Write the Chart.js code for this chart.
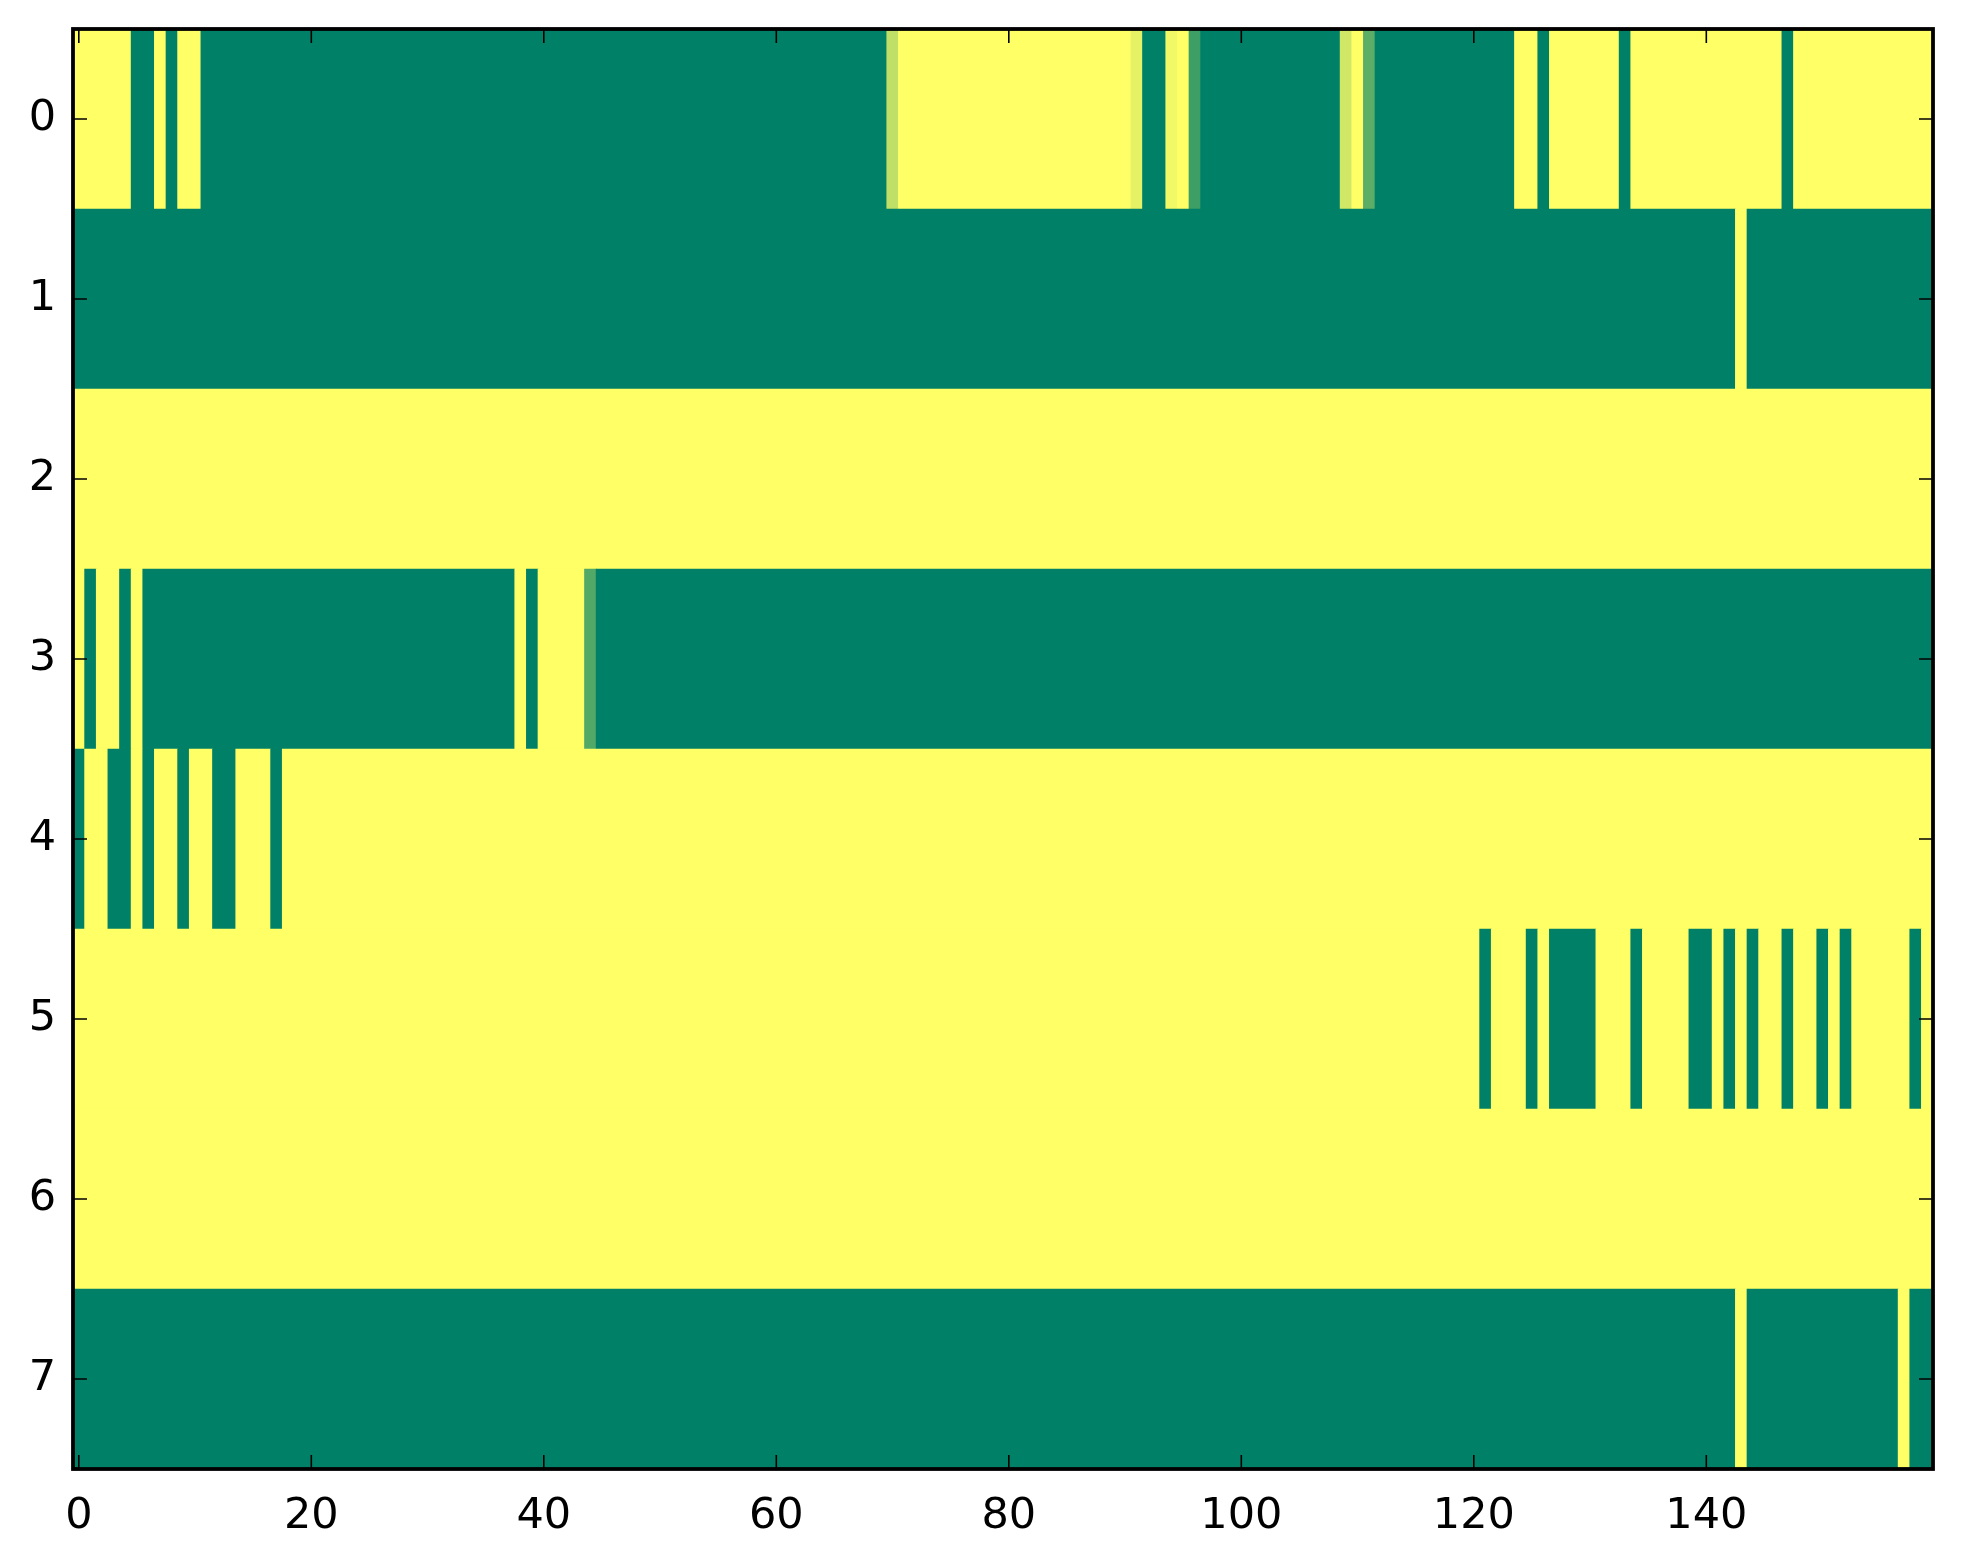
<!DOCTYPE html>
<html>
<head>
<meta charset="utf-8">
<script src="https://cdn.jsdelivr.net/npm/chart.js@4.4.1/dist/chart.umd.min.js"></script>
<style>
  html, body { margin: 0; padding: 0; background: #ffffff; }
  #wrap { width: 1963px; height: 1564px; }
</style>
</head>
<body>
<div id="wrap"><canvas id="heatmap" width="1963" height="1564"></canvas></div>
<script>
/* ======= Data ====== */
const rowTicks = [0, 1, 2, 3, 4, 5, 6, 7];
const colTicks = [0, 20, 40, 60, 80, 100, 120, 140];

// one value per column (160 columns), 0 = green, 1 = yellow
const row0 = [
  1,1,1,1,1,0,0,1,0,1,1,0,0,0,0,0,0,0,0,0, 0,0,0,0,0,0,0,0,0,0,0,0,0,0,0,0,0,0,0,0,
  0,0,0,0,0,0,0,0,0,0,0,0,0,0,0,0,0,0,0,0, 0,0,0,0,0,0,0,0,0,0,0.75,1,1,1,1,1,1,1,1,1,
  1,1,1,1,1,1,1,1,1,1,1,0.9,0,0,0.95,1,0.24,0,0,0, 0,0,0,0,0,0,0,0,0,0.82,1,0.36,0,0,0,0,0,0,0,0,
  0,0,0,0,1,1,0,1,1,1,1,1,1,0,1,1,1,1,1,1, 1,1,1,1,1,1,1,0,1,1,1,1,1,1,1,1,1,1,1,1
];
const row1 = [
  0,0,0,0,0,0,0,0,0,0,0,0,0,0,0,0,0,0,0,0, 0,0,0,0,0,0,0,0,0,0,0,0,0,0,0,0,0,0,0,0,
  0,0,0,0,0,0,0,0,0,0,0,0,0,0,0,0,0,0,0,0, 0,0,0,0,0,0,0,0,0,0,0,0,0,0,0,0,0,0,0,0,
  0,0,0,0,0,0,0,0,0,0,0,0,0,0,0,0,0,0,0,0, 0,0,0,0,0,0,0,0,0,0,0,0,0,0,0,0,0,0,0,0,
  0,0,0,0,0,0,0,0,0,0,0,0,0,0,0,0,0,0,0,0, 0,0,0,1,0,0,0,0,0,0,0,0,0,0,0,0,0,0,0,0
];
const row2 = [
  1,1,1,1,1,1,1,1,1,1,1,1,1,1,1,1,1,1,1,1, 1,1,1,1,1,1,1,1,1,1,1,1,1,1,1,1,1,1,1,1,
  1,1,1,1,1,1,1,1,1,1,1,1,1,1,1,1,1,1,1,1, 1,1,1,1,1,1,1,1,1,1,1,1,1,1,1,1,1,1,1,1,
  1,1,1,1,1,1,1,1,1,1,1,1,1,1,1,1,1,1,1,1, 1,1,1,1,1,1,1,1,1,1,1,1,1,1,1,1,1,1,1,1,
  1,1,1,1,1,1,1,1,1,1,1,1,1,1,1,1,1,1,1,1, 1,1,1,1,1,1,1,1,1,1,1,1,1,1,1,1,1,1,1,1
];
const row3 = [
  1,0,1,1,0,1,0,0,0,0,0,0,0,0,0,0,0,0,0,0, 0,0,0,0,0,0,0,0,0,0,0,0,0,0,0,0,0,0,1,0,
  1,1,1,1,0.32,0,0,0,0,0,0,0,0,0,0,0,0,0,0,0, 0,0,0,0,0,0,0,0,0,0,0,0,0,0,0,0,0,0,0,0,
  0,0,0,0,0,0,0,0,0,0,0,0,0,0,0,0,0,0,0,0, 0,0,0,0,0,0,0,0,0,0,0,0,0,0,0,0,0,0,0,0,
  0,0,0,0,0,0,0,0,0,0,0,0,0,0,0,0,0,0,0,0, 0,0,0,0,0,0,0,0,0,0,0,0,0,0,0,0,0,0,0,0
];
const row4 = [
  0,1,1,0,0,1,0,1,1,0,1,1,0,0,1,1,1,0,1,1, 1,1,1,1,1,1,1,1,1,1,1,1,1,1,1,1,1,1,1,1,
  1,1,1,1,1,1,1,1,1,1,1,1,1,1,1,1,1,1,1,1, 1,1,1,1,1,1,1,1,1,1,1,1,1,1,1,1,1,1,1,1,
  1,1,1,1,1,1,1,1,1,1,1,1,1,1,1,1,1,1,1,1, 1,1,1,1,1,1,1,1,1,1,1,1,1,1,1,1,1,1,1,1,
  1,1,1,1,1,1,1,1,1,1,1,1,1,1,1,1,1,1,1,1, 1,1,1,1,1,1,1,1,1,1,1,1,1,1,1,1,1,1,1,1
];
const row5 = [
  1,1,1,1,1,1,1,1,1,1,1,1,1,1,1,1,1,1,1,1, 1,1,1,1,1,1,1,1,1,1,1,1,1,1,1,1,1,1,1,1,
  1,1,1,1,1,1,1,1,1,1,1,1,1,1,1,1,1,1,1,1, 1,1,1,1,1,1,1,1,1,1,1,1,1,1,1,1,1,1,1,1,
  1,1,1,1,1,1,1,1,1,1,1,1,1,1,1,1,1,1,1,1, 1,1,1,1,1,1,1,1,1,1,1,1,1,1,1,1,1,1,1,1,
  1,0,1,1,1,0,1,0,0,0,0,1,1,1,0,1,1,1,1,0, 0,1,0,1,0,1,1,0,1,1,0,1,0,1,1,1,1,1,0,1
];
const row6 = [
  1,1,1,1,1,1,1,1,1,1,1,1,1,1,1,1,1,1,1,1, 1,1,1,1,1,1,1,1,1,1,1,1,1,1,1,1,1,1,1,1,
  1,1,1,1,1,1,1,1,1,1,1,1,1,1,1,1,1,1,1,1, 1,1,1,1,1,1,1,1,1,1,1,1,1,1,1,1,1,1,1,1,
  1,1,1,1,1,1,1,1,1,1,1,1,1,1,1,1,1,1,1,1, 1,1,1,1,1,1,1,1,1,1,1,1,1,1,1,1,1,1,1,1,
  1,1,1,1,1,1,1,1,1,1,1,1,1,1,1,1,1,1,1,1, 1,1,1,1,1,1,1,1,1,1,1,1,1,1,1,1,1,1,1,1
];
const row7 = [
  0,0,0,0,0,0,0,0,0,0,0,0,0,0,0,0,0,0,0,0, 0,0,0,0,0,0,0,0,0,0,0,0,0,0,0,0,0,0,0,0,
  0,0,0,0,0,0,0,0,0,0,0,0,0,0,0,0,0,0,0,0, 0,0,0,0,0,0,0,0,0,0,0,0,0,0,0,0,0,0,0,0,
  0,0,0,0,0,0,0,0,0,0,0,0,0,0,0,0,0,0,0,0, 0,0,0,0,0,0,0,0,0,0,0,0,0,0,0,0,0,0,0,0,
  0,0,0,0,0,0,0,0,0,0,0,0,0,0,0,0,0,0,0,0, 0,0,0,1,0,0,0,0,0,0,0,0,0,0,0,0,0,1,0,0
];
const rows = [row0, row1, row2, row3, row4, row5, row6, row7];

/* matplotlib "summer" colormap */
function summer(v) {
  return `rgb(${Math.round(255 * v)}, ${Math.round(127.5 + 127.5 * v)}, 102)`;
}

/* merge neighbouring equal cells into one floating bar (no seams) */
const cells = [];
const cellColors = [];
rows.forEach(function (vals, r) {
  let start = 0;
  for (let c = 1; c <= vals.length; c++) {
    if (c === vals.length || vals[c] !== vals[start]) {
      cells.push({ x: [start - 0.5, c - 0.5], y: r });
      cellColors.push(summer(vals[start]));
      start = c;
    }
  }
});

/* ======= Frame with inward ticks on all sides ====== */
const framePlugin = {
  id: 'frame',
  afterDraw(chart) {
    const { ctx, chartArea: a, scales } = chart;
    const len = 14;
    ctx.save();
    ctx.strokeStyle = '#000';
    ctx.lineWidth = 1.6;
    ctx.beginPath();
    colTicks.forEach(function (v) {
      const px = scales.x.getPixelForValue(v);
      ctx.moveTo(px, a.bottom); ctx.lineTo(px, a.bottom - len);
      ctx.moveTo(px, a.top); ctx.lineTo(px, a.top + len);
    });
    rowTicks.forEach(function (v) {
      const py = scales.y.getPixelForValue(v);
      ctx.moveTo(a.left, py); ctx.lineTo(a.left + len, py);
      ctx.moveTo(a.right, py); ctx.lineTo(a.right - len, py);
    });
    ctx.stroke();
    ctx.lineWidth = 3.8;
    ctx.strokeRect(a.left, a.top, a.right - a.left, a.bottom - a.top);
    ctx.restore();
  }
};

const tickFont = { family: "'DejaVu Sans', sans-serif", size: 43 };

new Chart(document.getElementById('heatmap'), {
  type: 'bar',
  data: {
    datasets: [{
      data: cells,
      backgroundColor: cellColors,
      borderWidth: 0,
      barPercentage: 1,
      categoryPercentage: 1,
    }],
  },
  options: {
    indexAxis: 'y',
    responsive: false,
    animation: false,
    devicePixelRatio: 1,
    layout: {
      padding: { top: 29, right: 30, left: 0, bottom: 0 },
    },
    plugins: {
      legend: { display: false },
      tooltip: { enabled: false },
    },
    scales: {
      x: {
        type: 'linear',
        min: -0.5,
        max: 159.5,
        grid: { display: false, drawTicks: false },
        border: { display: false },
        afterBuildTicks(axis) {
          axis.ticks = colTicks.map(v => ({ value: v }));
        },
        afterFit(axis) {
          axis.height = 95;
        },
        ticks: {
          font: tickFont,
          color: '#000',
          padding: 22,
          maxRotation: 0,
          autoSkip: false,
        },
      },
      y: {
        type: 'linear',
        reverse: true,
        offset: false,
        min: -0.5,
        max: 7.5,
        grid: { display: false, drawTicks: false, offset: false },
        border: { display: false },
        afterBuildTicks(axis) {
          axis.ticks = rowTicks.map(v => ({ value: v }));
        },
        afterFit(axis) {
          axis.width = 73;
          axis.paddingTop = 0;
          axis.paddingBottom = 0;
        },
        ticks: {
          font: tickFont,
          color: '#000',
          padding: 17,
          autoSkip: false,
        },
      },
    },
  },
  plugins: [framePlugin],
});
</script>
</body>
</html>
